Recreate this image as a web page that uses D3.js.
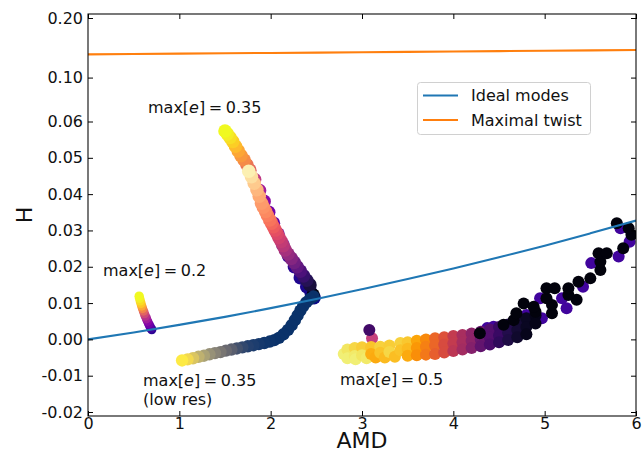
<!DOCTYPE html>
<html><head><meta charset="utf-8">
<script src="https://cdn.jsdelivr.net/npm/d3@7"></script>
<style>
html,body{margin:0;padding:0;background:#fff;}
svg{display:block;font-family:"DejaVu Sans",sans-serif;}
</style></head><body>
<svg id="chart" width="643" height="460"></svg>
<script>
// ---------- axis ticks ----------
const xTicks = [0, 1, 2, 3, 4, 5, 6];
const yTicksLinear = [-0.02, -0.01, 0.00, 0.01, 0.02, 0.03, 0.04, 0.05, 0.06];
const yTickLabelsLinear = ["-0.02", "-0.01", "0.00", "0.01", "0.02", "0.03", "0.04", "0.05", "0.06"];
const yTicksLog = [0.10, 0.20];
const yTickLabelsLog = ["0.10", "0.20"];

// ---------- reference curves ----------
const idealAMD = [0, 0.5, 1, 1.5, 2, 2.5, 3, 3.5, 4, 4.5, 5, 5.5, 6];
const idealH   = [0, 0.0019, 0.0040, 0.0062, 0.0086, 0.0111, 0.0138, 0.0166, 0.0195, 0.0226, 0.0258, 0.0292, 0.0327];
const twistAMD = [0, 1, 2, 3, 4, 5, 6];
const twistH   = [0.1310, 0.1321, 0.1332, 0.1343, 0.1355, 0.1366, 0.1378];

// ---------- simulation runs: [AMD, H, colour value] ----------
// max[e] = 0.2
const runE02 = [
  [0.698, 0.0027, 0.05], [0.688, 0.0031, 0.10], [0.676, 0.0037, 0.16], [0.664, 0.0043, 0.22],
  [0.652, 0.0050, 0.28], [0.640, 0.0057, 0.35], [0.628, 0.0064, 0.42], [0.617, 0.0071, 0.50],
  [0.607, 0.0078, 0.60], [0.597, 0.0085, 0.70], [0.588, 0.0092, 0.80], [0.580, 0.0099, 0.88],
  [0.572, 0.0106, 0.93], [0.565, 0.0113, 0.97], [0.560, 0.0119, 1.00]
];
// max[e] = 0.35, first pass
const runE035a = [
  [2.475, 0.0115, 0.00], [2.445, 0.0127, 0.01], [2.395, 0.0145, 0.02], [2.325, 0.0170, 0.03],
  [2.260, 0.0200, 0.05], [2.195, 0.0230, 0.07], [2.135, 0.0260, 0.10], [2.080, 0.0290, 0.14],
  [2.030, 0.0320, 0.18], [1.978, 0.0350, 0.22], [1.928, 0.0380, 0.28], [1.878, 0.0410, 0.35],
  [1.824, 0.0440, 0.45], [1.772, 0.0466, 0.60], [1.740, 0.0481, 0.66], [1.710, 0.0494, 0.72],
  [1.675, 0.0506, 0.76], [1.645, 0.0519, 0.80], [1.615, 0.0532, 0.85], [1.585, 0.0545, 0.90],
  [1.555, 0.0556, 0.94], [1.525, 0.0566, 0.97], [1.500, 0.0574, 1.00]
];
// max[e] = 0.35, second pass
const runE035b = [
  [2.465, 0.0122, 0.03], [2.430, 0.0150, 0.11], [2.395, 0.0163, 0.15], [2.360, 0.0175, 0.19],
  [2.325, 0.0188, 0.24], [2.290, 0.0200, 0.29], [2.257, 0.0212, 0.33], [2.225, 0.0223, 0.38],
  [2.190, 0.0235, 0.42], [2.160, 0.0246, 0.46], [2.137, 0.0258, 0.50], [2.115, 0.0270, 0.53],
  [2.090, 0.0281, 0.56], [2.070, 0.0292, 0.59], [2.050, 0.0301, 0.62], [2.030, 0.0310, 0.65],
  [2.010, 0.0320, 0.68], [1.990, 0.0329, 0.71], [1.965, 0.0341, 0.73], [1.945, 0.0352, 0.75],
  [1.920, 0.0364, 0.77], [1.900, 0.0375, 0.79], [1.875, 0.0394, 0.82], [1.850, 0.0412, 0.85],
  [1.820, 0.0430, 0.89], [1.790, 0.0448, 0.93], [1.760, 0.0463, 0.97]
];
// max[e] = 0.35, low resolution
const runE035low = [
  [2.470, 0.0118, 0.10], [2.430, 0.0111, 0.10], [2.390, 0.0102, 0.10], [2.355, 0.0091, 0.10],
  [2.325, 0.0079, 0.10], [2.295, 0.0066, 0.10], [2.265, 0.0053, 0.10], [2.230, 0.0039, 0.10],
  [2.190, 0.0026, 0.10], [2.140, 0.0014, 0.10], [2.090, 0.0004, 0.10], [2.040, -0.0002, 0.10],
  [1.990, -0.0006, 0.11], [1.930, -0.0010, 0.12], [1.870, -0.0013, 0.14], [1.810, -0.0016, 0.16],
  [1.750, -0.0019, 0.18], [1.690, -0.0022, 0.22], [1.630, -0.0025, 0.27], [1.570, -0.0028, 0.34],
  [1.510, -0.0031, 0.40], [1.450, -0.0035, 0.47], [1.390, -0.0038, 0.54], [1.330, -0.0041, 0.61],
  [1.270, -0.0045, 0.69], [1.210, -0.0048, 0.76], [1.150, -0.0052, 0.85], [1.090, -0.0055, 0.93],
  [1.030, -0.0058, 1.00]
];
// max[e] = 0.5, first pass
const runE05a = [
  [4.450, -0.0005, 0.12], [4.600, 0.0010, 0.10], [4.750, 0.0035, 0.10], [3.110, 0.0003, 0.48],
  [4.370, 0.0031, 0.10], [4.440, 0.0035, 0.10], [4.800, 0.0067, 0.10], [4.970, 0.0058, 0.10],
  [4.950, 0.0113, 0.10], [5.240, 0.0086, 0.10], [5.190, 0.0113, 0.10], [5.420, 0.0145, 0.10],
  [5.510, 0.0210, 0.10], [5.810, 0.0228, 0.10], [5.930, 0.0269, 0.10], [5.830, 0.0306, 0.10]
];
// max[e] = 0.5, second pass
const runE05b = [
  [2.800, -0.0040, 0.95], [2.840, -0.0028, 0.93], [2.840, -0.0052, 0.95], [2.920, -0.0024, 0.90],
  [2.920, -0.0046, 0.94], [2.930, -0.0055, 0.95], [3.000, -0.0022, 0.88], [3.000, -0.0044, 0.93],
  [3.050, -0.0052, 0.94], [3.100, -0.0021, 0.86], [3.100, -0.0040, 0.82], [3.150, -0.0050, 0.81],
  [3.200, -0.0020, 0.89], [3.200, -0.0037, 0.86], [3.250, -0.0050, 0.84], [3.300, -0.0017, 0.88],
  [3.300, -0.0035, 0.90], [3.360, -0.0048, 0.85], [3.420, -0.0010, 0.89], [3.420, -0.0030, 0.86],
  [3.500, -0.0008, 0.87], [3.500, -0.0026, 0.84], [3.500, -0.0045, 0.81], [3.600, -0.0004, 0.80],
  [3.600, -0.0024, 0.77], [3.600, -0.0044, 0.75], [3.700, 0.0000, 0.74], [3.700, -0.0020, 0.72],
  [3.700, -0.0042, 0.70], [3.800, 0.0003, 0.66], [3.800, -0.0017, 0.66], [3.800, -0.0040, 0.64],
  [3.900, 0.0006, 0.60], [3.900, -0.0014, 0.58], [3.900, -0.0036, 0.58], [4.000, 0.0009, 0.52],
  [4.000, -0.0011, 0.52], [4.000, -0.0032, 0.50], [4.100, 0.0012, 0.45], [4.100, -0.0008, 0.45],
  [4.100, -0.0028, 0.44], [4.200, 0.0016, 0.38], [4.200, -0.0004, 0.38], [4.200, -0.0024, 0.36],
  [4.300, 0.0021, 0.30], [4.300, 0.0000, 0.30], [4.300, -0.0019, 0.28], [4.400, 0.0027, 0.24],
  [4.400, 0.0005, 0.24], [4.400, -0.0014, 0.22], [4.500, 0.0034, 0.18], [4.500, 0.0011, 0.18],
  [4.500, -0.0008, 0.16], [4.600, 0.0041, 0.13], [4.600, 0.0018, 0.13], [4.600, -0.0002, 0.12],
  [4.700, 0.0049, 0.09], [4.700, 0.0026, 0.09], [4.700, 0.0006, 0.08], [4.800, 0.0058, 0.06],
  [4.800, 0.0034, 0.06], [4.800, 0.0014, 0.05], [4.900, 0.0066, 0.04], [4.900, 0.0044, 0.04],
  [3.080, 0.0026, 0.20],
  [4.290, 0.0017, 0.02], [4.550, 0.0040, 0.02], [4.660, 0.0053, 0.02], [4.690, 0.0072, 0.02],
  [4.900, 0.0076, 0.02], [4.770, 0.0099, 0.02], [4.880, 0.0090, 0.02], [5.080, 0.0072, 0.02],
  [5.080, 0.0095, 0.02], [5.020, 0.0113, 0.02], [5.020, 0.0141, 0.02], [5.110, 0.0141, 0.02],
  [5.350, 0.0109, 0.02], [5.260, 0.0122, 0.02], [5.260, 0.0141, 0.02], [5.370, 0.0159, 0.02],
  [5.500, 0.0168, 0.02], [5.610, 0.0191, 0.02], [5.610, 0.0214, 0.02], [5.590, 0.0237, 0.02],
  [5.680, 0.0237, 0.02], [5.860, 0.0251, 0.02], [5.950, 0.0288, 0.02], [5.920, 0.0306, 0.02],
  [5.790, 0.0320, 0.02]
];

// ---------- layout ----------
const svg = d3.select("#chart");
const plot = { left: 88, right: 636, top: 14, bottom: 416 };
const FONT = 16;

const x = d3.scaleLinear().domain([0, 6]).range([plot.left, plot.right]);
// H axis: linear up to 0.06, logarithmic above it
const yLin = d3.scaleLinear().domain([-0.02, 0.06]).range([412, 121.5]);
const yLog = d3.scaleLog().domain([0.06, 0.2]).range([121.5, 18]);
const y = v => (v <= 0.06 ? yLin(v) : yLog(v));

svg.append("defs").append("clipPath").attr("id", "plotClip")
  .append("rect")
  .attr("x", plot.left).attr("y", plot.top)
  .attr("width", plot.right - plot.left).attr("height", plot.bottom - plot.top);

const marks = svg.append("g").attr("clip-path", "url(#plotClip)");

// scatter runs
function drawRun(data, cmap, r) {
  marks.append("g").selectAll("circle").data(data).join("circle")
    .attr("cx", d => x(d[0]))
    .attr("cy", d => y(d[1]))
    .attr("r", r)
    .attr("fill", d => cmap(d[2]));
}
drawRun(runE02, d3.interpolatePlasma, 4.7);
drawRun(runE035a, d3.interpolatePlasma, 6.8);
drawRun(runE035b, d3.interpolateMagma, 6.8);
drawRun(runE035low, d3.interpolateCividis, 6.2);
drawRun(runE05a, d3.interpolatePlasma, 6);
drawRun(runE05b, d3.interpolateInferno, 6);

// reference curves
const line = d3.line().x(d => x(d[0])).y(d => y(d[1])).curve(d3.curveMonotoneX);
marks.append("path")
  .attr("d", line(idealAMD.map((a, i) => [a, idealH[i]])))
  .attr("fill", "none").attr("stroke", "#1f77b4").attr("stroke-width", 2.1);
marks.append("path")
  .attr("d", line(twistAMD.map((a, i) => [a, twistH[i]])))
  .attr("fill", "none").attr("stroke", "#ff7f0e").attr("stroke-width", 2.1);

// ---------- axes (ticks point inward, on all four sides) ----------
function styleAxis(g) {
  g.select(".domain").remove();
  g.selectAll("line").attr("stroke", "#000").attr("stroke-width", 1);
  g.selectAll("text").attr("font-size", FONT).attr("fill", "#111")
    .attr("font-family", '"DejaVu Sans", sans-serif');
}
svg.append("g").attr("transform", `translate(0,${plot.bottom})`)
  .call(d3.axisBottom(x).tickValues(xTicks).tickFormat(d3.format("d")).tickSize(-5).tickPadding(2))
  .call(styleAxis);
svg.append("g").attr("transform", `translate(0,${plot.top})`)
  .call(d3.axisTop(x).tickValues(xTicks).tickFormat("").tickSize(-5))
  .call(styleAxis);
svg.append("g").attr("transform", `translate(${plot.left},0)`)
  .call(d3.axisLeft(yLin).tickValues(yTicksLinear)
    .tickFormat((d, i) => yTickLabelsLinear[i]).tickSize(-5).tickPadding(5))
  .call(styleAxis);
svg.append("g").attr("transform", `translate(${plot.left},0)`)
  .call(d3.axisLeft(yLog).tickValues(yTicksLog)
    .tickFormat((d, i) => yTickLabelsLog[i]).tickSize(-5).tickPadding(5))
  .call(styleAxis);
svg.append("g").attr("transform", `translate(${plot.right},0)`)
  .call(d3.axisRight(yLin).tickValues(yTicksLinear).tickFormat("").tickSize(-5))
  .call(styleAxis);
svg.append("g").attr("transform", `translate(${plot.right},0)`)
  .call(d3.axisRight(yLog).tickValues(yTicksLog).tickFormat("").tickSize(-5))
  .call(styleAxis);

// frame
svg.append("rect")
  .attr("x", plot.left).attr("y", plot.top)
  .attr("width", plot.right - plot.left).attr("height", plot.bottom - plot.top)
  .attr("fill", "none").attr("stroke", "#000").attr("stroke-width", 1.05);

// axis titles
svg.append("text").attr("x", (plot.left + plot.right) / 2).attr("y", 448)
  .attr("text-anchor", "middle").attr("font-size", 22).attr("fill", "#111").text("AMD");
svg.append("text").attr("transform", `translate(32,${(plot.top + plot.bottom) / 2}) rotate(-90)`)
  .attr("text-anchor", "middle").attr("font-size", 22).attr("fill", "#111").text("H");

// ---------- run labels ----------
const runLabels = [
  { value: "0.35", px: 148, py: 113 },
  { value: "0.2", px: 103, py: 276 },
  { value: "0.35", px: 143, py: 386, sub: "(low res)" },
  { value: "0.5", px: 340, py: 385 }
];
runLabels.forEach(l => {
  const t = svg.append("text").attr("x", l.px).attr("y", l.py)
    .attr("font-size", FONT).attr("fill", "#111");
  t.append("tspan").text("max[");
  t.append("tspan").attr("font-style", "italic").text("e");
  t.append("tspan").text("]");
  t.append("tspan").attr("dx", 3.6).text("=");
  t.append("tspan").attr("dx", 3.6).text(l.value);
  if (l.sub) {
    svg.append("text").attr("x", l.px).attr("y", l.py + 19)
      .attr("font-size", FONT).attr("fill", "#111").text(l.sub);
  }
});

// ---------- legend ----------
const legendItems = [
  { label: "Ideal modes", color: "#1f77b4" },
  { label: "Maximal twist", color: "#ff7f0e" }
];
const lg = svg.append("g").attr("transform", "translate(417,82)");
lg.append("rect").attr("x", 0.5).attr("y", 0.5).attr("width", 173).attr("height", 52)
  .attr("rx", 3).attr("fill", "#fff").attr("fill-opacity", 0.85)
  .attr("stroke", "#d0d0d0").attr("stroke-width", 1);
legendItems.forEach((it, i) => {
  const yy = 13.5 + i * 24.5;
  lg.append("line").attr("x1", 6).attr("x2", 41).attr("y1", yy).attr("y2", yy)
    .attr("stroke", it.color).attr("stroke-width", 2.1);
  lg.append("text").attr("x", 54).attr("y", yy + 5.8)
    .attr("font-size", FONT).attr("fill", "#111").text(it.label);
});
</script>
</body></html>
